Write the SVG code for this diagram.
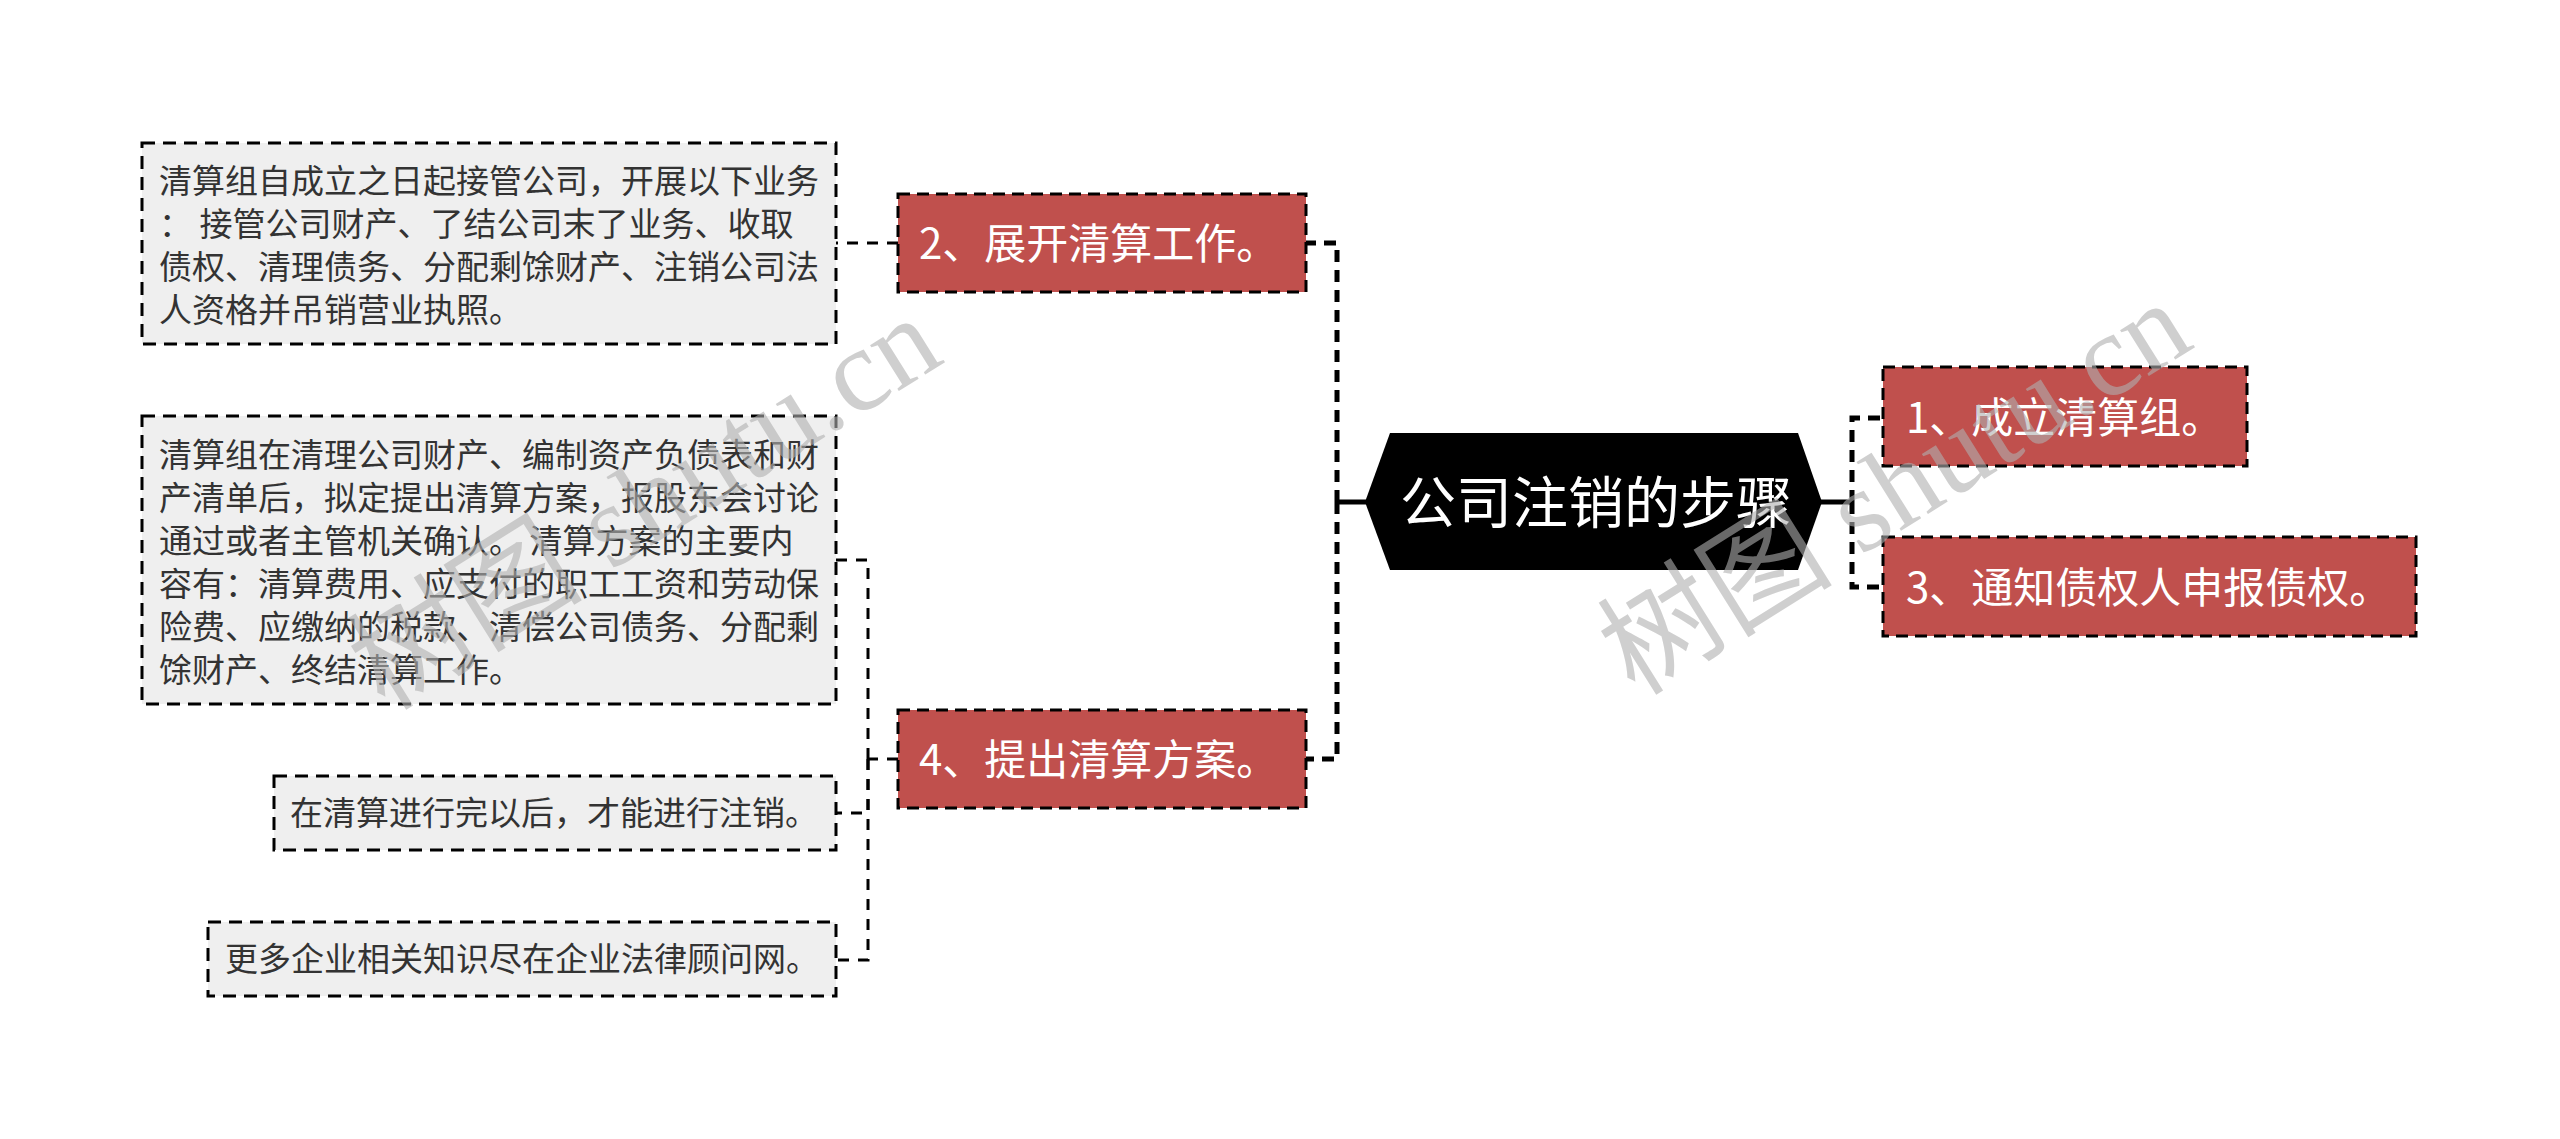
<svg xmlns="http://www.w3.org/2000/svg" width="2560" height="1139" viewBox="0 0 2560 1139">
<style>
.gbox{fill:#efefef;stroke:#000;stroke-width:3;stroke-dasharray:13 8}
.rbox{fill:#c0504d;stroke:#000;stroke-width:3;stroke-dasharray:12 7}
.gt{font-family:"Noto Sans CJK SC","Microsoft YaHei",sans-serif;font-size:33px;fill:#333}
.rt{font-family:"Noto Sans CJK SC","Microsoft YaHei",sans-serif;font-size:42px;fill:#fff}
.root{font-family:"Noto Sans CJK SC","Microsoft YaHei",sans-serif;font-size:56px;fill:#fff}
.c1{fill:none;stroke:#000;stroke-width:5;stroke-dasharray:12 8}
.c2{fill:none;stroke:#000;stroke-width:3;stroke-dasharray:11 9}
.solid{fill:none;stroke:#000;stroke-width:5}
.wm{font-family:"Liberation Serif","Noto Sans CJK SC",serif;font-size:118px;fill:#b0b0b0;opacity:0.6}
</style>
<rect width="2560" height="1139" fill="#fff"/>
<g id="connectors">
<line class="solid" x1="1337" y1="502" x2="1367" y2="502"/>
<path class="c1" d="M1337,502 V243 H1306"/>
<path class="c1" d="M1337,502 V759 H1306"/>
<line class="solid" x1="1820" y1="502" x2="1852" y2="502"/>
<path class="c1" d="M1852,502 V418 H1883"/>
<path class="c1" d="M1852,502 V587 H1883"/>
<path class="c2" d="M898,243 H836"/>
<path class="c2" d="M898,759 H868"/>
<path class="c2" d="M868,759 V560 H836"/>
<path class="c2" d="M868,759 V813 H836"/>
<path class="c2" d="M868,759 V960 H836"/>
</g>
<g id="root">
<polygon points="1365,502 1390,433 1798,433 1822,502 1798,570 1390,570" fill="#000"/>
<text class="root" x="1596" y="523" text-anchor="middle">公司注销的步骤</text>
</g>
<g id="node1">
<rect class="rbox" x="1883" y="367" width="364" height="99"/>
<text class="rt" x="1906" y="433">1、成立清算组。</text>
</g>
<g id="node3">
<rect class="rbox" x="1883" y="537" width="533" height="99"/>
<text class="rt" x="1906" y="603">3、通知债权人申报债权。</text>
</g>
<g id="node2">
<rect class="rbox" x="898" y="194" width="408" height="98"/>
<text class="rt" x="919" y="259">2、展开清算工作。</text>
</g>
<g id="node4">
<rect class="rbox" x="898" y="710" width="408" height="98"/>
<text class="rt" x="919" y="775">4、提出清算方案。</text>
</g>
<g id="leaf1">
<rect class="gbox" x="142" y="143" width="694" height="201"/>
<text class="gt" x="159" y="193">清算组自成立之日起接管公司，开展以下业务</text>
<text class="gt" x="159" y="236">： 接管公司财产、了结公司末了业务、收取</text>
<text class="gt" x="159" y="279">债权、清理债务、分配剩馀财产、注销公司法</text>
<text class="gt" x="159" y="322">人资格并吊销营业执照。</text>
</g>
<g id="leaf2">
<rect class="gbox" x="142" y="416" width="694" height="288"/>
<text class="gt" x="159" y="467">清算组在清理公司财产、编制资产负债表和财</text>
<text class="gt" x="159" y="510">产清单后，拟定提出清算方案，报股东会讨论</text>
<text class="gt" x="159" y="553">通过或者主管机关确认。 清算方案的主要内</text>
<text class="gt" x="159" y="596">容有：清算费用、应支付的职工工资和劳动保</text>
<text class="gt" x="159" y="639">险费、应缴纳的税款、清偿公司债务、分配剩</text>
<text class="gt" x="159" y="682">馀财产、终结清算工作。</text>
</g>
<g id="leaf3">
<rect class="gbox" x="274" y="776" width="562" height="74"/>
<text class="gt" x="290" y="825">在清算进行完以后，才能进行注销。</text>
</g>
<g id="leaf4">
<rect class="gbox" x="208" y="922" width="628" height="74"/>
<text class="gt" x="225" y="971">更多企业相关知识尽在企业法律顾问网。</text>
</g>
<g id="watermarks">
<text class="wm" transform="translate(385,712) rotate(-32)">树图 shutu.cn</text>
<text class="wm" transform="translate(1635,697) rotate(-32)">树图 shutu.cn</text>
</g>
</svg>
